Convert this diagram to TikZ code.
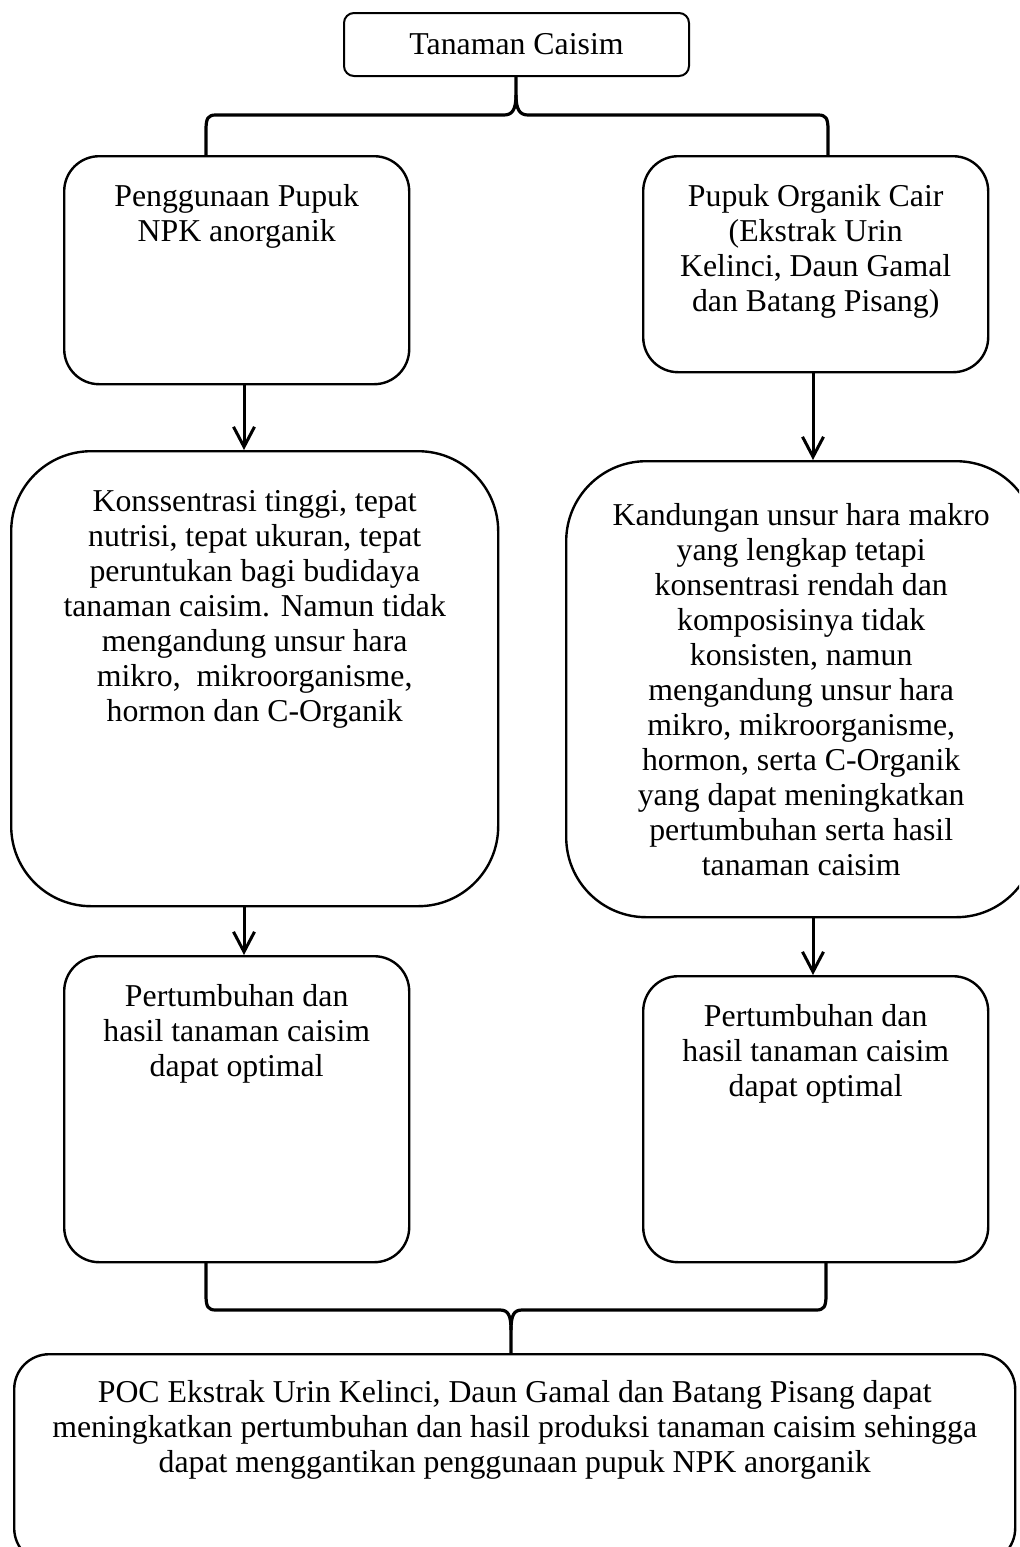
\documentclass[tikz,border=0pt]{standalone}
\usepackage{fontspec}
\setmainfont{Liberation Serif}
\usetikzlibrary{arrows.meta,calc}
\begin{document}
\begin{tikzpicture}[x=0.5pt,y=-0.5pt,
  box/.style={draw,line width=1.2pt,anchor=north west,inner sep=0pt},
  txt/.style={align=center,inner sep=0pt,anchor=north,font=\fontsize{15.9}{17.5}\selectfont},
  arr/.style={line width=1.5pt,-{Straight Barb[length=10pt,width=10.5pt,line width=1.5pt]}},
  brc/.style={line width=1.6pt,line join=round}]
\useasboundingbox (0,0) rectangle (1019,1547);
\clip (0,0) rectangle (1019,1547);
% boxes
\node[box,line width=1pt,rounded corners=5pt,minimum width=172.5pt,minimum height=31.5pt,
  font=\fontsize{15.9}{17.5}\selectfont] (top) at (343,12) {Tanaman Caisim};
\node[box,rounded corners=17.5pt,minimum width=172.5pt,minimum height=114pt] (b1) at (63,155) {};
\node[box,rounded corners=17.5pt,minimum width=172.5pt,minimum height=108pt] (c1) at (642,155) {};
\node[box,rounded corners=40pt,minimum width=243.5pt,minimum height=227.5pt] (b2) at (10,450) {};
\node[box,rounded corners=40pt,minimum width=235pt,minimum height=228pt] (c2) at (565,460) {};
\node[box,rounded corners=17.5pt,minimum width=172.5pt,minimum height=153pt] (b3) at (63,955) {};
\node[box,rounded corners=17.5pt,minimum width=172.5pt,minimum height=143pt] (c3) at (642,975) {};
\node[box,rounded corners=17.5pt,minimum width=500.5pt,minimum height=104.5pt] (bot) at (13,1353) {};
% texts
\node[txt] (t1) at ([yshift=-14.75pt]b1.north) {Penggunaan Pupuk\\NPK anorganik};
\node[txt] (t2) at ([yshift=-14.75pt]c1.north) {Pupuk Organik Cair\\(Ekstrak Urin\\Kelinci, Daun Gamal\\dan Batang Pisang)};
\node[txt] (t3) at ([yshift=-20pt]b2.north) {Konssentrasi tinggi, tepat\\nutrisi, tepat ukuran, tepat\\peruntukan bagi budidaya\\tanaman caisim. Namun tidak\\mengandung unsur hara\\mikro,\ \ mikroorganisme,\\hormon dan C-Organik};
\node[txt] (t4) at ([yshift=-21.5pt]c2.north) {Kandungan unsur hara makro\\yang lengkap tetapi\\konsentrasi rendah dan\\komposisinya tidak\\konsisten, namun\\mengandung unsur hara\\mikro, mikroorganisme,\\hormon, serta C-Organik\\yang dapat meningkatkan\\pertumbuhan serta hasil\\tanaman caisim};
\node[txt] (t5) at ([yshift=-14.75pt]b3.north) {Pertumbuhan dan\\hasil tanaman caisim\\dapat optimal};
\node[txt] (t6) at ([yshift=-14.75pt]c3.north) {Pertumbuhan dan\\hasil tanaman caisim\\dapat optimal};
\node[txt] (t7) at ([yshift=-13.75pt]bot.north) {POC Ekstrak Urin Kelinci, Daun Gamal dan Batang Pisang dapat\\meningkatkan pertumbuhan dan hasil produksi tanaman caisim sehingga\\dapat menggantikan penggunaan pupuk NPK anorganik};
% arrows
\draw[arr] (b1.south -| 244,0) -- (b2.north -| 244,0);
\draw[arr] (c1.south -| 813,0) -- (c2.north -| 813,0);
\draw[arr] (b2.south -| 244,0) -- (b3.north -| 244,0);
\draw[arr] (c2.south -| 813,0) -- (c3.north -| 813,0);
% top brace
\coordinate (tl) at (206,155);
\coordinate (tr) at (828,155);
\draw[brc] (top.south -| 516,0) -- (516,95) .. controls (516,110) and (512,115) .. (504,115)
  -- (216,115) .. controls (208,115) and (206,118) .. (206,130) -- (tl);
\draw[brc] (516,95) .. controls (516,110) and (520,115) .. (528,115)
  -- (818,115) .. controls (826,115) and (828,118) .. (828,130) -- (tr);
% bottom brace
\coordinate (bl) at (206,1261);
\coordinate (br) at (826,1261);
\draw[brc] (bl) -- (206,1295) .. controls (206,1307) and (208,1310) .. (216,1310)
  -- (500,1310) .. controls (508,1310) and (511,1315) .. (511,1330) -- (bot.north -| 511,0);
\draw[brc] (br) -- (826,1295) .. controls (826,1307) and (824,1310) .. (816,1310)
  -- (522,1310) .. controls (514,1310) and (511,1315) .. (511,1330);
\end{tikzpicture}
\end{document}
